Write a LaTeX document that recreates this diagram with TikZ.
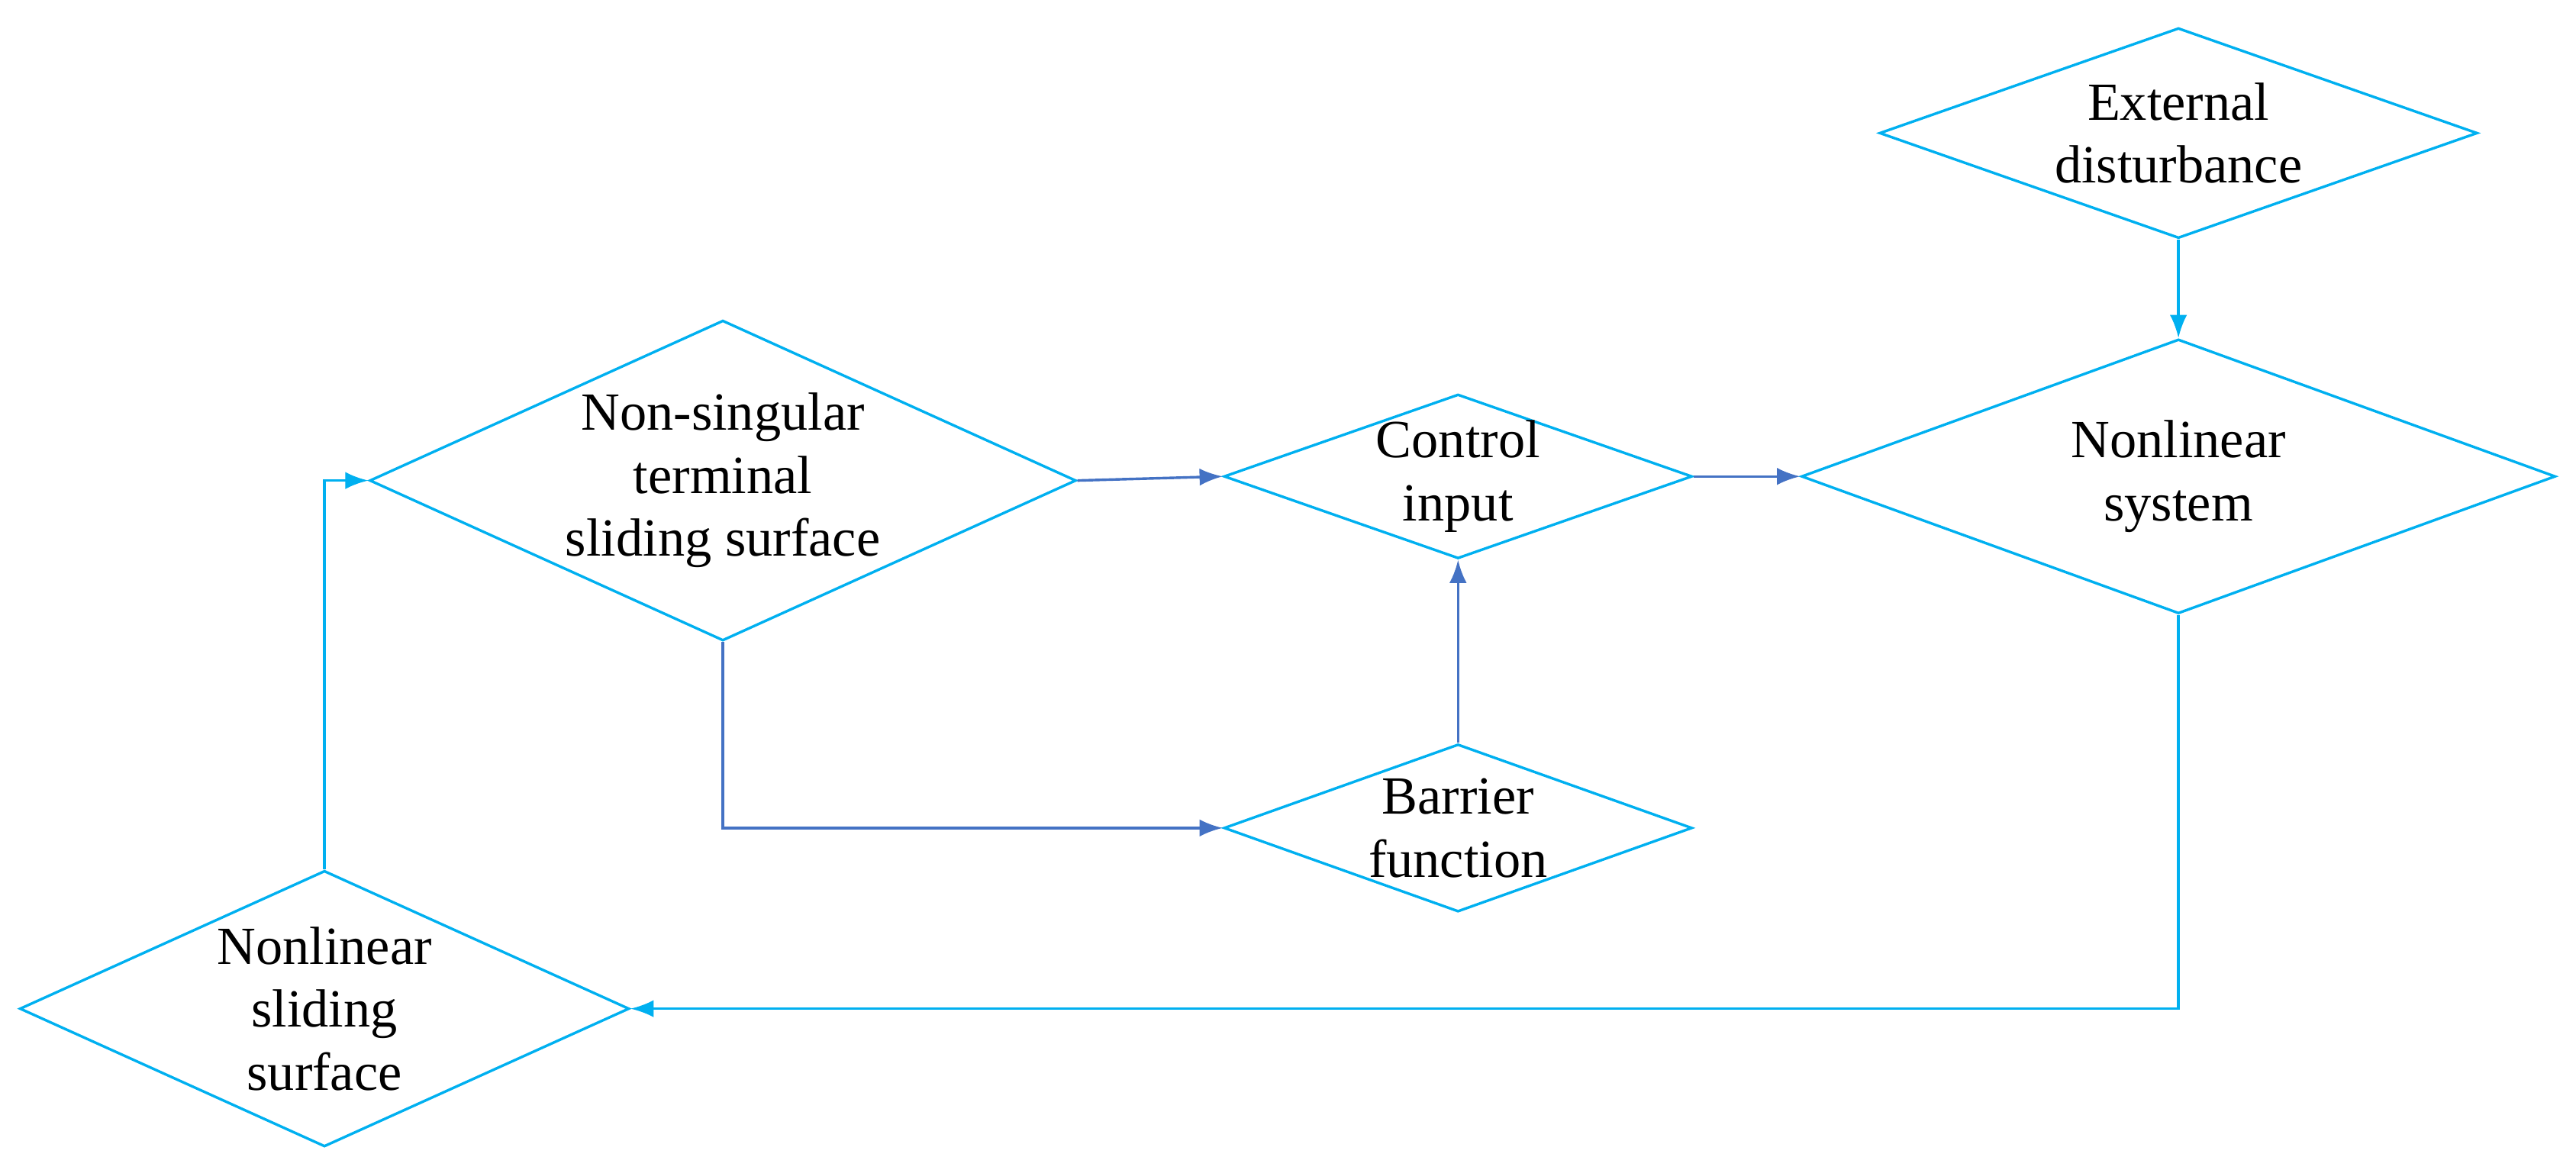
\documentclass[tikz,border=0pt]{standalone}
\usepackage{fontspec}
\setmainfont{Liberation Serif}
\usetikzlibrary{shapes.geometric, arrows.meta, positioning}

\definecolor{skyline}{RGB}{0,176,240}
\definecolor{flowblue}{RGB}{68,114,196}

\tikzset{
  dia/.style 2 args={diamond, draw=skyline, line width=0.45pt, inner sep=0pt,
    minimum width=#1cm, minimum height=#2cm},
  txt/.style={align=center, font=\fontsize{9.3}{10.9}\selectfont},
  skyarrow/.style={draw=skyline, line width=0.45pt, -{Latex[length=4pt,width=3pt]}},
  bluearrow/.style={draw=flowblue, line width=0.45pt, -{Latex[length=4pt,width=3pt]}}
}

\begin{document}
\begin{tikzpicture}
  \useasboundingbox (0,0) rectangle (15.68,-7.12);

  \node[dia={3.64}{1.28}] (ext) at (13.26,-0.81) {};
  \node[txt] (exttxt) at (ext) {External\\disturbance};

  \node[dia={4.59}{1.67}] (nls) at (13.26,-2.90) {};
  \node[txt] (nlstxt) at (nls) {Nonlinear\\system};

  \node[dia={2.85}{1.00}] (ctrl) at (8.875,-2.90) {};
  \node[txt] (ctrltxt) at (ctrl) {Control\\input};

  \node[dia={4.30}{1.95}] (ntss) at (4.40,-2.925) {};
  \node[txt] (ntsstxt) at (ntss) {Non-singular\\terminal\\sliding surface};

  \node[dia={2.85}{1.02}] (bar) at (8.875,-5.04) {};
  \node[txt] (bartxt) at (bar) {Barrier\\function};

  \node[dia={3.71}{1.68}] (nss) at (1.975,-6.14) {};
  \node[txt] (nsstxt) at (nss) {Nonlinear\\sliding\\surface};

  % connectors
  \draw[skyarrow] (ext.south) -- (nls.north);
  \draw[bluearrow] (ntss.east) -- (ctrl.west);
  \draw[bluearrow] (ctrl.east) -- (nls.west);
  \draw[bluearrow] (ntss.south) |- (bar.west);
  \draw[bluearrow] (bar.north) -- (ctrl.south);
  \draw[skyarrow] (nls.south) |- (nss.east);
  \draw[skyarrow] (nss.north) |- (ntss.west);
\end{tikzpicture}
\end{document}
